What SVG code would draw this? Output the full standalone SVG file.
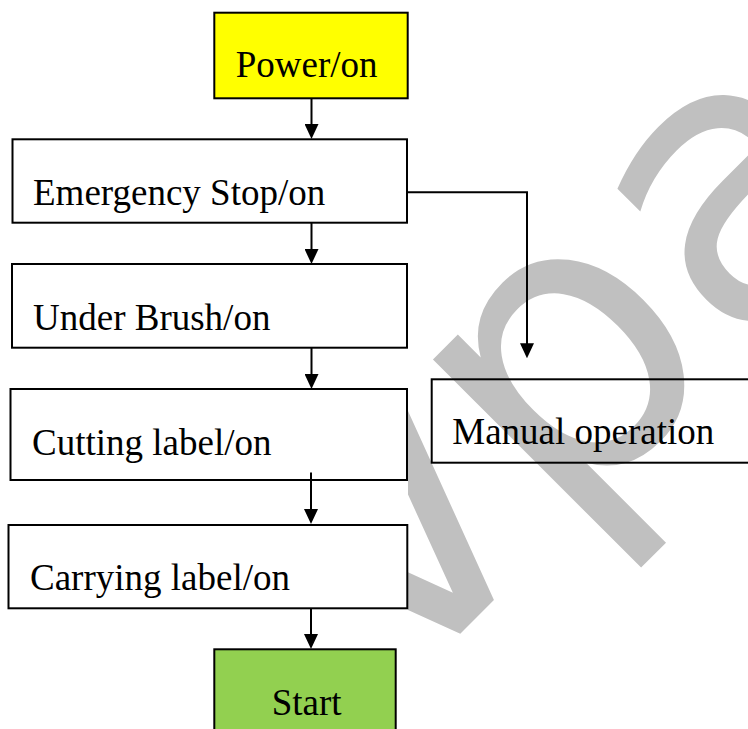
<svg xmlns="http://www.w3.org/2000/svg" width="748" height="729" viewBox="0 0 748 729">
  <style>
    .box { stroke: #000; stroke-width: 2; }
    .lbl { font-family: "Liberation Serif", "Times New Roman", serif; font-size: 37px; fill: #000; }
    .conn { fill: none; stroke: #000; stroke-width: 2; }
    .wm { font-family: "DejaVu Sans", sans-serif; font-size: 390px; fill: #c0c0c0; }
  </style>
  <defs>
    <marker id="arrow" viewBox="0 0 15 14" refX="7" refY="7" markerWidth="15" markerHeight="14" markerUnits="userSpaceOnUse" orient="auto">
      <path d="M0,0 L15,7 L0,14 z" fill="#000"/>
    </marker>
    <clipPath id="wmclip">
      <rect x="408" y="0" width="340" height="729"/>
    </clipPath>
  </defs>
  <rect x="0" y="0" width="748" height="729" fill="#fff"/>

  <g id="watermark" clip-path="url(#wmclip)">
    <text class="wm" transform="translate(395.5,698.5) rotate(-45)" x="0" y="0">vpa</text>
  </g>

  <g id="power">
    <rect class="box" x="214.3" y="12.7" width="193.4" height="85.6" fill="#ffff00"/>
    <text class="lbl" x="235.7" y="77">Power/on</text>
  </g>
  <g id="emergency">
    <rect class="box" x="12.5" y="139.3" width="394.5" height="83.4" fill="#fff"/>
    <text class="lbl" x="33" y="204.5">Emergency Stop/on</text>
  </g>
  <g id="underbrush">
    <rect class="box" x="12" y="264" width="395" height="83.7" fill="#fff"/>
    <text class="lbl" x="33" y="330">Under Brush/on</text>
  </g>
  <g id="cutting">
    <rect class="box" x="10.5" y="389" width="396.5" height="91" fill="#fff"/>
    <text class="lbl" x="32" y="455">Cutting label/on</text>
  </g>
  <g id="carrying">
    <rect class="box" x="8.5" y="525" width="398.8" height="83.3" fill="#fff"/>
    <text class="lbl" x="30" y="590">Carrying label/on</text>
  </g>
  <g id="start">
    <rect class="box" x="214.3" y="649.3" width="181.4" height="100" fill="#92d050"/>
    <text class="lbl" x="271.7" y="715">Start</text>
  </g>
  <g id="manual">
    <rect class="box" x="431.7" y="379.3" width="330" height="83.4" fill="none"/>
    <text class="lbl" x="452.3" y="444">Manual operation</text>
  </g>

  <g id="connectors">
    <line class="conn" x1="311.5" y1="98.3" x2="311.5" y2="131" marker-end="url(#arrow)"/>
    <line class="conn" x1="311.5" y1="222.7" x2="311.5" y2="256" marker-end="url(#arrow)"/>
    <line class="conn" x1="311.5" y1="347.7" x2="311.5" y2="381" marker-end="url(#arrow)"/>
    <line class="conn" x1="311" y1="472.5" x2="311" y2="516" marker-end="url(#arrow)"/>
    <line class="conn" x1="311" y1="608.3" x2="311" y2="641" marker-end="url(#arrow)"/>
    <path class="conn" d="M407,192.3 H527 V350.3" stroke-width="2.5" marker-end="url(#arrow)"/>
  </g>
</svg>
